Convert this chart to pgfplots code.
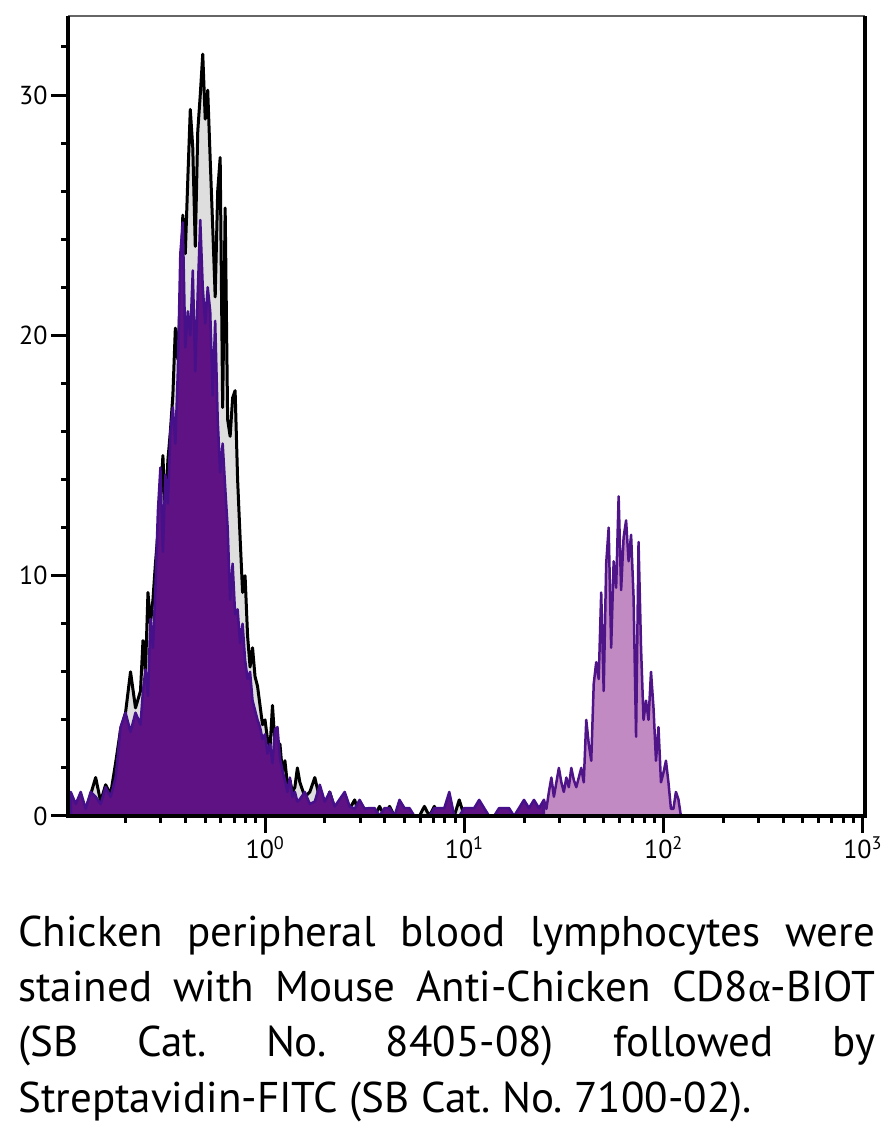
\documentclass[border=0pt]{standalone}
\usepackage{fontspec}
\setmainfont{PT Sans}
\newfontfamily\greekfont{Liberation Serif}
\usepackage{pgfplots}
\pgfplotsset{compat=1.18}
\definecolor{ctrlfill}{HTML}{DEDEDE}
\definecolor{negfill}{HTML}{5E1283}
\definecolor{negline}{HTML}{45108A}
\definecolor{posfill}{HTML}{C28AC2}
\definecolor{posline}{HTML}{4F1488}
\definecolor{topline}{HTML}{666666}

\pgfplotstableread{
x y
0.10593 0.5
0.11220 0.0
0.11885 0.6
0.12589 0.3
0.13335 0.9
0.14125 1.6
0.14962 0.6
0.15849 1.3
0.16788 0.9
0.17783 2.2
0.18836 3.6
0.19953 4.3
0.21135 6.0
0.22387 4.5
0.23714 5.2
0.24406 7.3
0.25119 6.0
0.25852 9.3
0.26607 8.0
0.27384 9.0
0.28184 10.5
0.29007 11.8
0.29854 13.0
0.30726 15.0
0.31623 12.5
0.32546 14.8
0.33497 16.0
0.34475 17.5
0.35481 20.3
0.36517 19.0
0.37584 21.5
0.38681 25.0
0.39811 23.4
0.40973 26.5
0.42170 29.4
0.43401 27.8
0.44668 23.7
0.45972 28.5
0.47315 30.0
0.48697 31.7
0.50119 29.0
0.51583 30.2
0.53088 27.3
0.54638 24.5
0.56234 21.6
0.57876 26.0
0.59566 27.4
0.61305 17.0
0.63096 25.3
0.64938 16.5
0.66834 15.8
0.68786 17.4
0.70795 17.7
0.72862 14.0
0.74989 11.6
0.77179 9.3
0.79433 10.0
0.81752 7.5
0.84140 6.2
0.86597 7.0
0.89125 5.8
0.91727 5.4
0.94406 4.6
0.97163 3.8
1.0000 4.0
1.0292 3.2
1.0593 2.8
1.0902 4.6
1.1220 3.0
1.1548 2.2
1.1885 3.0
1.2232 1.8
1.2589 2.3
1.2957 1.3
1.3335 1.5
1.3725 1.0
1.4125 1.2
1.4538 2.0
1.4962 1.4
1.5849 0.8
1.6788 1.0
1.7783 1.6
1.8836 0.7
1.9953 0.4
2.1135 1.0
2.2387 0.3
2.3714 0.5
2.5119 0.3
2.6607 0.3
2.8184 0.67
2.9854 0.0
3.1623 0.3
3.3497 0.3
3.5481 0.0
3.7584 0.4
3.9811 0.0
4.2170 0.4
4.4668 0.0
4.7315 0.3
5.0119 0.0
5.9566 0.0
6.3096 0.4
6.6834 0.0
7.0795 0.4
7.4989 0.0
8.9125 0.0
9.4406 0.67
10.000 0.0
}\control

\pgfplotstableread{
x y
0.10593 1.0
0.11220 0.5
0.11885 1.0
0.12589 0.3
0.13335 1.0
0.14125 0.8
0.14962 0.5
0.15849 1.2
0.16788 0.8
0.17783 1.6
0.18836 3.7
0.19953 4.3
0.21135 3.5
0.22387 4.3
0.23714 3.8
0.24406 5.2
0.25119 6.1
0.25852 5.0
0.26607 8.2
0.27384 7.0
0.28184 9.5
0.29007 12.7
0.29854 14.5
0.30726 11.0
0.31623 14.2
0.32546 13.0
0.33497 16.0
0.34475 17.0
0.35481 15.5
0.36517 18.5
0.37584 23.4
0.38681 24.7
0.39811 19.5
0.40973 21.0
0.42170 20.0
0.43401 22.7
0.44668 18.5
0.45972 21.8
0.47315 24.8
0.48697 22.0
0.50119 20.5
0.51583 22.0
0.53088 21.0
0.54638 17.5
0.56234 20.6
0.57876 16.5
0.59566 14.3
0.61305 15.5
0.63096 13.7
0.64938 12.0
0.66834 9.0
0.68786 10.5
0.70795 8.4
0.72862 8.6
0.74989 7.2
0.77179 8.0
0.79433 6.5
0.81752 5.7
0.84140 6.0
0.86597 4.8
0.89125 4.4
0.91727 4.0
0.94406 3.7
0.97163 3.2
1.0000 3.4
1.0292 2.6
1.0593 3.0
1.0902 2.2
1.1220 3.6
1.1548 3.7
1.1885 2.4
1.2232 1.9
1.2589 1.5
1.2957 1.0
1.3335 1.6
1.3725 0.8
1.4125 1.0
1.4538 0.6
1.4962 0.7
1.5849 1.0
1.6788 0.5
1.7783 0.6
1.8836 1.3
1.9953 0.6
2.1135 1.0
2.2387 0.4
2.3714 0.7
2.5119 1.0
2.6607 0.4
2.8184 0.3
2.9854 0.67
3.1623 0.3
3.3497 0.33
3.5481 0.33
3.7584 0.0
3.9811 0.33
4.2170 0.33
4.4668 0.0
4.7315 0.67
5.0119 0.33
5.3088 0.33
5.6234 0.0
6.6834 0.0
7.0795 0.33
7.4989 0.33
7.9433 0.33
8.4140 1.0
8.9125 0.0
9.4406 0.0
10.000 0.33
10.593 0.33
11.220 0.33
11.885 0.67
12.589 0.33
13.335 0.0
14.125 0.0
14.962 0.33
15.849 0.33
16.788 0.33
17.783 0.0
18.836 0.33
19.953 0.67
21.135 0.33
22.387 0.67
23.714 0.33
25.119 0.67
}\negative

\pgfplotstableread{
x y
25.119 0.67
25.852 0.3
26.607 1.0
27.384 1.6
28.184 0.8
29.007 1.4
29.854 2.0
30.726 1.4
31.623 1.0
32.546 1.6
33.497 1.2
34.475 2.0
35.481 1.5
36.517 1.2
37.584 1.6
38.681 2.0
39.811 1.4
40.973 4.0
42.170 3.0
43.401 2.3
44.668 5.5
45.972 6.4
47.315 5.7
48.697 9.3
50.119 5.2
51.583 10.5
53.088 12.0
54.638 7.0
56.234 10.6
57.876 9.5
59.566 13.3
61.305 9.4
63.096 11.6
64.938 12.3
66.834 10.6
68.786 11.7
70.795 9.1
72.862 3.3
74.989 11.4
77.179 7.0
79.433 4.0
81.752 4.8
84.140 4.0
86.597 6.0
89.125 4.5
91.727 2.3
94.406 3.7
97.163 1.4
100.00 1.8
102.92 2.3
105.93 1.4
109.02 0.3
112.20 0.3
115.48 1.0
118.85 0.7
122.32 0.0
}\positive

\begin{document}
\frenchspacing
\begin{tikzpicture}
\useasboundingbox (0,0) rectangle (892pt,1124pt);
\begin{axis}[
  name=ax,
  at={(68pt,308pt)}, anchor=south west,
  width=797pt, height=800pt, scale only axis,
  xmode=log, xmin=0.1026, xmax=1027, ymin=0, ymax=33.29,
  axis x line*=bottom, axis y line*=left,
  axis line style={draw=none},
  tick align=outside,
  xtick={1,10,100,1000},
  xticklabels={10\textsuperscript{0},10\textsuperscript{1},10\textsuperscript{2},10\textsuperscript{3}},
  minor xtick={0.2,0.3,0.4,0.5,0.6,0.7,0.8,0.9,2,3,4,5,6,7,8,9,20,30,40,50,60,70,80,90,200,300,400,500,600,700,800,900},
  ytick={0,10,20,30},
  yticklabels={0,10,20,30},
  minor ytick={2,4,6,8,12,14,16,18,22,24,26,28,32},
  major tick length=17pt, minor tick length=7pt,
  tick style={black, line width=3pt},
  tick label style={font=\fontsize{26}{26}\selectfont},
  clip=false,
]
\addplot[draw=black, line width=3pt, line join=round, fill=ctrlfill] table[x=x,y=y] {\control} \closedcycle;
\addplot[draw=negline, line width=2.5pt, line join=round, fill=negfill] table[x=x,y=y] {\negative} \closedcycle;
\addplot[draw=posline, line width=2.5pt, line join=round, fill=posfill] table[x=x,y=y] {\positive} \closedcycle;
\end{axis}
\draw[topline, line width=2.5pt] (ax.north west) -- (ax.north east);
\draw[black, line width=4pt, line join=miter] (ax.north west) -- (ax.south west) -- (ax.south east) -- (ax.north east);
\begin{scope}[every node/.style={anchor=base west, inner sep=0pt, font=\fontsize{43}{55}\selectfont}]
\node at (18pt,177pt) {\makebox[857pt][s]{Chicken peripheral blood lymphocytes were}};
\node at (18pt,122pt) {\makebox[857pt][s]{stained with Mouse Anti-Chicken CD8{\greekfont α}-BIOT}};
\node at (18pt,67pt) {\makebox[857pt][s]{(SB Cat. No. 8405-08) followed by}};
\node at (18pt,12pt) {Streptavidin-FITC (SB Cat. No. 7100-02).};
\end{scope}
\end{tikzpicture}
\end{document}
